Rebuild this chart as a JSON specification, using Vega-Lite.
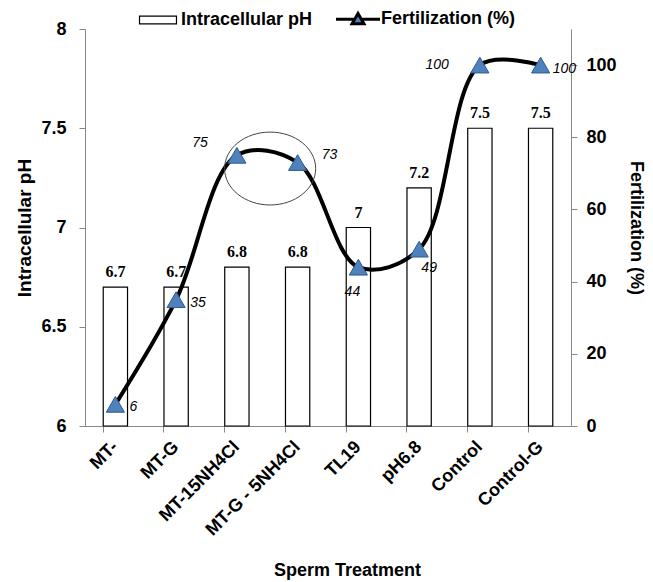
{
  "$schema": "https://vega.github.io/schema/vega-lite/v6.json",
  "width": 486,
  "height": 397,
  "autosize": "none",
  "padding": {"left": 85, "top": 29, "right": 82, "bottom": 156},
  "background": "white",
  "config": {
    "view": {"stroke": null},
    "font": "Liberation Sans",
    "axis": {"domainColor": "#888888", "tickColor": "#888888", "grid": false, "labelFont": "Liberation Sans", "titleFont": "Liberation Sans", "labelFontWeight": "bold", "titleFontWeight": "bold", "labelColor": "black", "titleColor": "black"}
  },
  "data": {
    "values": [
      {"treatment": "MT-", "ph": 6.7, "fert": 6},
      {"treatment": "MT-G", "ph": 6.7, "fert": 35},
      {"treatment": "MT-15NH4Cl", "ph": 6.8, "fert": 75},
      {"treatment": "MT-G - 5NH4Cl", "ph": 6.8, "fert": 73},
      {"treatment": "TL19", "ph": 7.0, "fert": 44},
      {"treatment": "pH6.8", "ph": 7.2, "fert": 49},
      {"treatment": "Control", "ph": 7.5, "fert": 100},
      {"treatment": "Control-G", "ph": 7.5, "fert": 100}
    ]
  },
  "encoding": {
    "x": {
      "field": "treatment",
      "type": "nominal",
      "sort": null,
      "scale": {"paddingInner": 0.6, "paddingOuter": 0.3},
      "axis": {
        "title": "Sperm Treatment",
        "titleFontSize": 18,
        "titlePadding": 23,
        "titleX": 262,
        "labelAngle": -45,
        "labelAlign": "right",
        "labelBaseline": "middle",
        "labelFontSize": 18,
        "bandPosition": 0,
        "labelOffset": 0,
        "tickSize": 6,
        "labelPadding": 12
      }
    }
  },
  "layer": [
    {
      "layer": [
        {
          "mark": {"type": "bar", "stroke": "black", "strokeWidth": 1.2},
          "encoding": {
            "y": {
              "field": "ph",
              "type": "quantitative",
              "scale": {"domain": [6, 8], "zero": false, "nice": false},
              "axis": {"title": "Intracellular pH", "titleFontSize": 19, "titlePadding": 6, "labelFontSize": 18, "values": [6, 6.5, 7, 7.5, 8], "labelExpr": "datum.value", "tickSize": 6, "labelPadding": 13}
            },
            "y2": {"datum": 6},
            "fill": {
              "datum": "Intracellular pH",
              "scale": {"domain": ["Intracellular pH", "Fertilization (%)"], "range": ["white", "#4F81BD"]},
              "legend": {
                "title": null,
                "orient": "none",
                "direction": "horizontal",
                "padding": 0,
                "legendX": 64,
                "legendY": -19,
                "labelFontSize": 18,
                "labelFontWeight": "bold",
                "labelFont": "Liberation Sans",
                "labelColor": "black",
                "symbolSize": 1936,
                "symbolStrokeColor": "black",
                "symbolStrokeWidth": 1.2,
                "columnPadding": 17,
                "labelOffset": 14,
                "encode": {
                  "symbols": {
                    "update": {
                      "shape": {"signal": "datum.value === 'Intracellular pH' ? 'M-0.84,-0.18H0.84V0.18H-0.84Z' : 'M-1,0H-0.2M0.2,0H1M-0.27,0.2L0,-0.26L0.27,0.2Z'"},
                      "strokeWidth": {"signal": "datum.value === 'Intracellular pH' ? 1.2 : 3"}
                    }
                  }
                }
              }
            }
          }
        },
        {
          "mark": {"type": "text", "font": "Liberation Serif", "fontWeight": "bold", "fontSize": 16, "dy": -15, "color": "black"},
          "encoding": {
            "y": {"field": "ph", "type": "quantitative", "scale": {"domain": [6, 8], "zero": false, "nice": false}},
            "text": {"field": "ph", "type": "quantitative"}
          }
        }
      ]
    },
    {
      "layer": [
        {
          "mark": {"type": "line", "interpolate": "catmull-rom", "color": "black", "strokeWidth": 4},
          "encoding": {
            "y": {
              "field": "fert",
              "type": "quantitative",
              "scale": {"domain": [0, 110], "nice": false},
              "axis": {"orient": "right", "title": "Fertilization (%)", "titleFontSize": 18, "titlePadding": 10, "labelFontSize": 18, "values": [0, 20, 40, 60, 80, 100], "tickSize": 6, "labelPadding": 9}
            }
          }
        },
        {
          "mark": {"type": "point", "shape": "triangle-up", "size": 330, "filled": true, "stroke": "#2F5A8A", "strokeWidth": 1, "opacity": 1},
          "encoding": {
            "y": {"field": "fert", "type": "quantitative", "scale": {"domain": [0, 110], "nice": false}},
            "fill": {"datum": "Fertilization (%)"}
          }
        },
        {
          "transform": [{"filter": "indexof(['MT-','MT-G'], datum.treatment) >= 0"}],
          "mark": {"type": "text", "fontStyle": "italic", "fontSize": 14, "align": "left", "dx": 14, "dy": 3, "color": "black"},
          "encoding": {
            "y": {"field": "fert", "type": "quantitative", "scale": {"domain": [0, 110], "nice": false}},
            "text": {"field": "fert", "type": "quantitative"}
          }
        },
        {
          "transform": [{"filter": "datum.treatment === 'MT-G - 5NH4Cl'"}],
          "mark": {"type": "text", "fontStyle": "italic", "fontSize": 14, "align": "left", "dx": 24, "dy": -8, "color": "black"},
          "encoding": {
            "y": {"field": "fert", "type": "quantitative", "scale": {"domain": [0, 110], "nice": false}},
            "text": {"field": "fert", "type": "quantitative"}
          }
        },
        {
          "transform": [{"filter": "datum.treatment === 'Control-G'"}],
          "mark": {"type": "text", "fontStyle": "italic", "fontSize": 14, "align": "left", "dx": 12, "dy": 4, "color": "black"},
          "encoding": {
            "y": {"field": "fert", "type": "quantitative", "scale": {"domain": [0, 110], "nice": false}},
            "text": {"field": "fert", "type": "quantitative"}
          }
        },
        {
          "transform": [{"filter": "datum.treatment === 'MT-15NH4Cl'"}],
          "mark": {"type": "text", "fontStyle": "italic", "fontSize": 14, "align": "right", "dx": -29, "dy": -12, "color": "black"},
          "encoding": {
            "y": {"field": "fert", "type": "quantitative", "scale": {"domain": [0, 110], "nice": false}},
            "text": {"field": "fert", "type": "quantitative"}
          }
        },
        {
          "transform": [{"filter": "datum.treatment === 'Control'"}],
          "mark": {"type": "text", "fontStyle": "italic", "fontSize": 14, "align": "right", "dx": -31, "dy": 0, "color": "black"},
          "encoding": {
            "y": {"field": "fert", "type": "quantitative", "scale": {"domain": [0, 110], "nice": false}},
            "text": {"field": "fert", "type": "quantitative"}
          }
        },
        {
          "transform": [{"filter": "datum.treatment === 'TL19'"}],
          "mark": {"type": "text", "fontStyle": "italic", "fontSize": 14, "align": "center", "dx": -6, "dy": 25, "color": "black"},
          "encoding": {
            "y": {"field": "fert", "type": "quantitative", "scale": {"domain": [0, 110], "nice": false}},
            "text": {"field": "fert", "type": "quantitative"}
          }
        },
        {
          "transform": [{"filter": "datum.treatment === 'pH6.8'"}],
          "mark": {"type": "text", "fontStyle": "italic", "fontSize": 14, "align": "center", "dx": 10, "dy": 19, "color": "black"},
          "encoding": {
            "y": {"field": "fert", "type": "quantitative", "scale": {"domain": [0, 110], "nice": false}},
            "text": {"field": "fert", "type": "quantitative"}
          }
        },
        {
          "transform": [{"filter": "datum.treatment === 'MT-15NH4Cl'"}],
          "mark": {"type": "point", "shape": "M-0.27,0.29A1,0.8 0 1,0 1.73,0.29A1,0.8 0 1,0 -0.27,0.29Z", "size": 8300, "filled": false, "stroke": "#444444", "strokeWidth": 1, "opacity": 1},
          "encoding": {
            "y": {"field": "fert", "type": "quantitative", "scale": {"domain": [0, 110], "nice": false}}
          }
        }
      ]
    }
  ],
  "resolve": {"scale": {"y": "independent"}}
}
